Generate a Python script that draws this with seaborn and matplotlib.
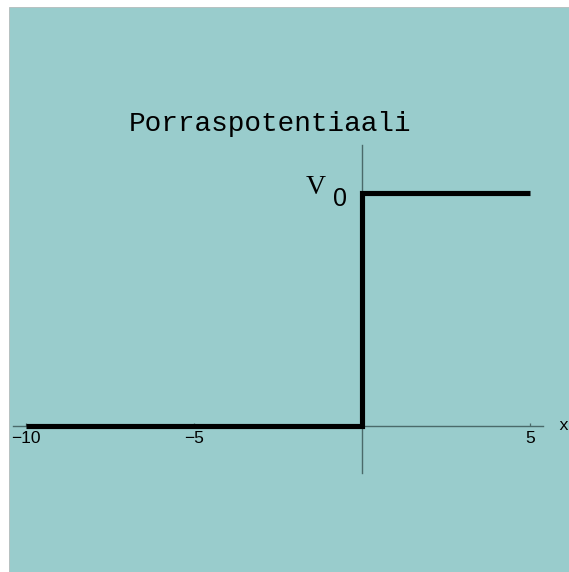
import matplotlib
matplotlib.use("Agg")
import matplotlib.pyplot as plt
import seaborn as sns
import pandas as pd
from matplotlib.patches import Rectangle

sns.set_style("white")
plt.rcParams["font.family"] = ["Liberation Sans", "DejaVu Sans"]
plt.rcParams["text.color"] = "black"

# Step potential: zero for x < 0, V0 for x > 0
V0 = 1.0
x_vals = [-10, 0, 0, 5]
v_vals = [0, 0, V0, V0]
tick_pos = [-10, -5, 5]
tick_labels = ["\u221210", "\u22125", "5"]
title = "Porraspotentiaali"

W, H = 569, 572
fig = plt.figure(figsize=(W / 100, H / 100), dpi=100)
fig.patch.set_facecolor("white")
fig.patches.append(Rectangle((9 / W, 0), 1 - 9 / W, 1 - 7 / H, transform=fig.transFigure,
                             facecolor="#99CCCC", edgecolor="#b4bcbc", linewidth=0.6,
                             zorder=-5))

ax = fig.add_axes([0, 0, 1, 1])
ax.set_facecolor("none")
ax.patch.set_alpha(0)
ax.set_zorder(1)

# pixel layout of the data coordinates
x0_px, xs = 362.0, 33.6
y0_px, ys = 425.5, 232.5
ax.set_xlim(-x0_px / xs, (W - x0_px) / xs)
ax.set_ylim(-(H - y0_px) / ys, y0_px / ys)

df = pd.DataFrame({"x": x_vals, "V": v_vals})
sns.lineplot(data=df, x="x", y="V", sort=False, estimator=None, ax=ax,
             color="black", linewidth=3.7, solid_capstyle="butt", solid_joinstyle="miter",
             zorder=3)

axis_col = "#4a6a6a"
for s in ("top", "right"):
    ax.spines[s].set_visible(False)
ax.spines["bottom"].set_position(("data", 0))
ax.spines["left"].set_position(("data", 0))
ax.spines["bottom"].set_bounds((13 - x0_px) / xs, (543 - x0_px) / xs)
ax.spines["left"].set_bounds(-(472.7 - y0_px) / ys, (y0_px - 145) / ys)
for s in ("bottom", "left"):
    ax.spines[s].set_visible(True)
    ax.spines[s].set_color(axis_col)
    ax.spines[s].set_linewidth(1.0)
    ax.spines[s].set_zorder(2)

ax.set_xticks(tick_pos)
ax.set_xticklabels(tick_labels)
ax.set_yticks([])
ax.tick_params(axis="x", direction="in", length=2.4, width=0.9, color=axis_col,
               labelsize=12.5, pad=4.0, labelcolor="black", bottom=True)
ax.set_xlabel("")
ax.set_ylabel("")

fig.text(270 / W, 1 - 131 / H, title, ha="center", va="baseline",
         family="Liberation Mono", fontsize=20)
fig.text(306 / W, 1 - 194 / H, "V", ha="left", va="baseline",
         family="Liberation Serif", fontsize=20)
fig.text(333 / W, 1 - 206 / H, "0", ha="left", va="baseline",
         family="Liberation Sans", fontsize=18)
fig.text(558 / W, 1 - 430 / H, "x", ha="left", va="baseline",
         family="Liberation Mono", fontsize=12)

fig.savefig("out.png", dpi=100)
